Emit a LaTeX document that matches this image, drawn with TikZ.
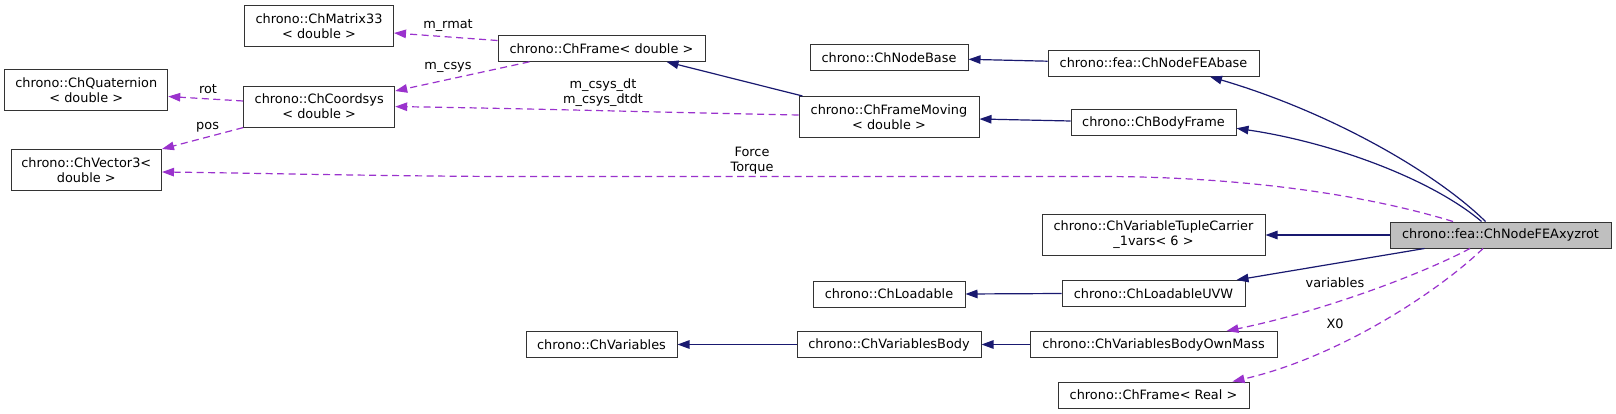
\documentclass[tikz,border=0pt]{standalone}
\usepackage{fontspec}
\setmainfont{DejaVu Sans}
\usetikzlibrary{arrows.meta}
\definecolor{edgenavy}{HTML}{191970}
\definecolor{edgepurple}{HTML}{9A32CD}
\definecolor{boxline}{HTML}{333333}
\definecolor{rootfill}{HTML}{BFBFBF}
\begin{document}
\begin{tikzpicture}[x=1pt,y=-1pt,
  every node/.style={font=\fontsize{12.87}{15}\selectfont, inner sep=0pt},
  cls/.style={draw=boxline, line width=1pt, fill=white, rectangle, align=center, minimum height=26pt},
  cls2/.style={cls, minimum height=41pt},
  rootcls/.style={cls, fill=rootfill},
  inh/.style={draw=edgenavy, line width=1.2pt, -{Triangle[length=12pt,width=8.5pt]}},
  use/.style={draw=edgepurple, line width=1.2pt, dash pattern=on 7pt off 4.5pt, -{Triangle[length=12pt,width=8.5pt]}},
  lbl/.style={text=black}
]
\fill[white] (0,0) rectangle (1616,414);
\useasboundingbox (0,0) rectangle (1616,414);

% nodes
\node[cls2, minimum width=149pt] (mat33) at (319,26.5) {chrono::ChMatrix33\\< double >};
\node[cls2, minimum width=163pt] (quat) at (86.25,90) {chrono::ChQuaternion\\< double >};
\node[cls2, minimum width=151pt] (csys) at (319.2,106.6) {chrono::ChCoordsys\\< double >};
\node[cls2, minimum width=150.5pt] (vec3) at (86.25,170) {chrono::ChVector3<\\double >};
\node[cls, minimum width=207pt] (frameD) at (601.5,48.3) {chrono::ChFrame< double >};
\node[cls, minimum width=158pt] (nodebase) at (889,58) {chrono::ChNodeBase};
\node[cls, minimum width=211pt] (feabase) at (1153.5,63.2) {chrono::fea::ChNodeFEAbase};
\node[cls2, minimum width=180pt] (framemov) at (889,117) {chrono::ChFrameMoving\\< double >};
\node[cls, minimum width=165pt] (bodyframe) at (1153.5,123) {chrono::ChBodyFrame};
\node[cls2, minimum width=223pt] (tuple) at (1153.5,235) {chrono::ChVariableTupleCarrier\\\_1vars< 6 >};
\node[rootcls, minimum width=221pt] (xyzrot) at (1500.5,235) {chrono::fea::ChNodeFEAxyzrot};
\node[cls, minimum width=152pt] (loadable) at (889,294) {chrono::ChLoadable};
\node[cls, minimum width=183pt] (loaduvw) at (1153.5,293.5) {chrono::ChLoadableUVW};
\node[cls, minimum width=151pt] (variables) at (601.5,344.5) {chrono::ChVariables};
\node[cls, minimum width=184pt] (varbody) at (889,344.5) {chrono::ChVariablesBody};
\node[cls, minimum width=247pt] (varown) at (1153.5,344.5) {chrono::ChVariablesBodyOwnMass};
\node[cls, minimum width=191pt] (frameR) at (1153.5,395) {chrono::ChFrame< Real >};

% inheritance edges (solid)
\draw[inh] ([xshift=4pt]framemov.north west) -- ([xshift=169pt]frameD.south west);
\draw[inh] ([yshift=2pt]feabase.west) -- ([yshift=-1.3pt]nodebase.east);
\draw[inh] ([yshift=2pt]bodyframe.west) -- ([yshift=-2pt]framemov.east);
\draw[inh] ([xshift=-15pt]xyzrot.north) .. controls (1435,172) and (1330,112) .. ([xshift=56.5pt]feabase.south);
\draw[inh] ([xshift=-19pt]xyzrot.north) .. controls (1430,178) and (1330,142) .. ([yshift=-5.3pt]bodyframe.east);
\draw[inh] (xyzrot.west) -- (tuple.east);
\draw[inh] ([xshift=35pt]xyzrot.south west) -- ([xshift=-9pt]loaduvw.north east);
\draw[inh] (loaduvw.west) -- (loadable.east);
\draw[inh] (varbody.west) -- (variables.east);
\draw[inh] (varown.west) -- (varbody.east);

% usage edges (dashed)
\draw[use] ([yshift=7.8pt]frameD.west) -- ([yshift=-6.5pt]mat33.east);
\draw[use] ([xshift=32pt]frameD.south west) -- ([yshift=15.6pt]csys.east);
\draw[use] ([yshift=2pt]framemov.west) .. controls (650,112) and (500,108) .. (csys.east);
\draw[use] ([yshift=5.6pt]csys.west) -- ([yshift=-6.5pt]quat.east);
\draw[use] (csys.south west) -- (vec3.north east);
\draw[use] ([xshift=-47.5pt]xyzrot.north) .. controls (1350,190) and (1220,176.5) .. (1100,176.5) -- (520,176.5) .. controls (400,176.5) and (250,173) .. ([yshift=-2pt]vec3.east);
\draw[use] ([xshift=-30.5pt]xyzrot.south) .. controls (1420,275) and (1320,312) .. ([xshift=73pt]varown.north);
\draw[use] ([xshift=-17.5pt]xyzrot.south) .. controls (1440,290) and (1340,357) .. ([xshift=79pt]frameR.north);

% edge labels
\node[lbl] (lrmat) at (448,25.7) {m\_rmat};
\node[lbl] (lcsys) at (448,67) {m\_csys};
\node[lbl, align=center] (ldt) at (603,93) {m\_csys\_dt\\m\_csys\_dtdt};
\node[lbl] (lrot) at (208,89.5) {rot};
\node[lbl] (lpos) at (207.6,127) {pos};
\node[lbl, align=center] (lforce) at (752,161) {Force\\Torque};
\node[lbl] (lvars) at (1335,283) {variables};
\node[lbl] (lx0) at (1335,324) {X0};
\end{tikzpicture}
\end{document}
